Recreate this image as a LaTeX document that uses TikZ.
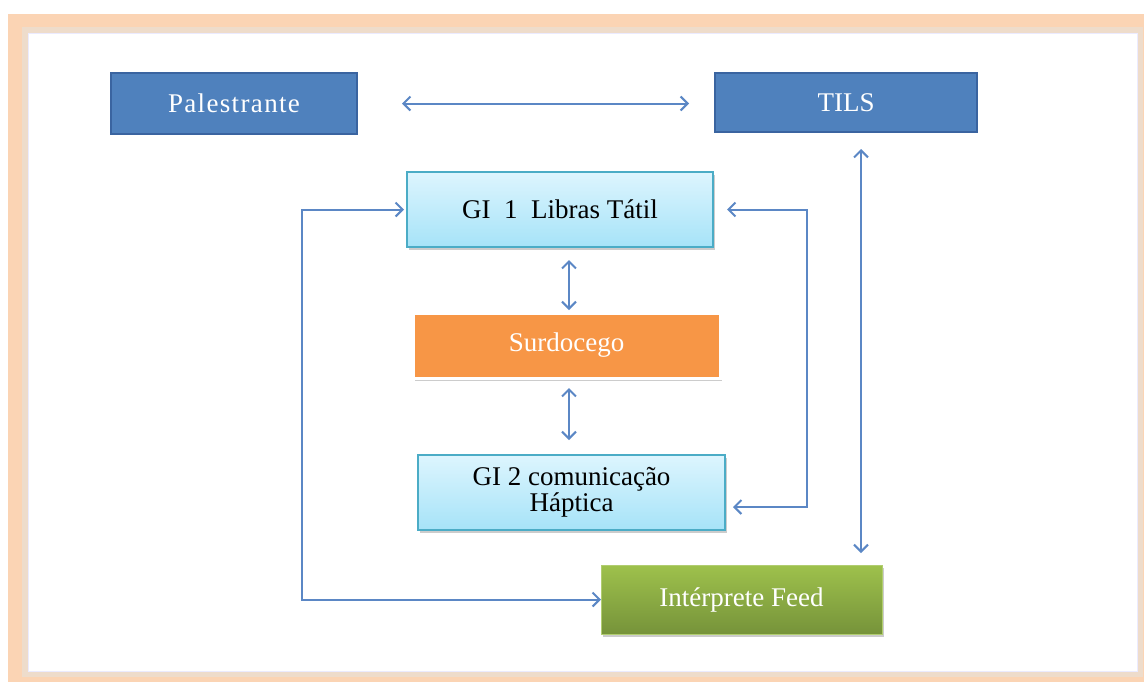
\documentclass[tikz,border=0pt]{standalone}
\usepackage{fontspec}
\setmainfont{Liberation Serif}
\usepackage{tikz}
\usetikzlibrary{arrows.meta,shadows}

\definecolor{boxblue}{HTML}{4F81BD}
\definecolor{boxblueline}{HTML}{3A64A0}
\definecolor{cyantop}{HTML}{DDF5FE}
\definecolor{cyanbot}{HTML}{A6E3F8}
\definecolor{cyanline}{HTML}{4BACC6}
\definecolor{boxorange}{HTML}{F79646}
\definecolor{greentop}{HTML}{9EC14C}
\definecolor{greenbot}{HTML}{76933A}
\definecolor{framepeach}{HTML}{FBD4B4}
\definecolor{frameedge}{HTML}{EEDCCB}
\definecolor{linkblue}{HTML}{5B87C5}

\tikzset{
	box/.style={rectangle, inner sep=0pt, outer sep=0pt, align=center,
		font=\fontsize{13.5}{13}\selectfont},
	speaker/.style={box, fill=boxblue, draw=boxblueline, line width=0.8pt, text=white},
	guide/.style={box, top color=cyantop, bottom color=cyanbot, draw=cyanline,
		line width=0.8pt, text=black,
		drop shadow={opacity=0.4, shadow xshift=1.2pt, shadow yshift=-1.5pt}},
	deafblind/.style={box, fill=boxorange, draw=white, line width=1.5pt, text=white,
		drop shadow={opacity=0.4, shadow xshift=1.2pt, shadow yshift=-1.5pt}},
	feeder/.style={box, top color=greentop, bottom color=greenbot, draw=greentop!80!white,
		line width=0.5pt, text=white,
		drop shadow={opacity=0.4, shadow xshift=1.2pt, shadow yshift=-1.5pt}},
	link/.style={draw=linkblue, line width=1pt,
		{Straight Barb[length=3.5pt,width=7pt]}-{Straight Barb[length=3.5pt,width=7pt]}}
}

\begin{document}
\begin{tikzpicture}[x=0.5pt,y=-0.5pt]
		\useasboundingbox (0,0) rectangle (1144,682);
%		\draw[help lines] (0,0) grid[step=50] (1144,682);
		% frame
		\fill[framepeach] (8,14) rectangle (1144,682);
		\draw[frameedge, line width=3pt] (25,30) rectangle (1140,674);
		\fill[white, draw=blue!8] (28,33) rectangle (1137,671);

		\path (234,103.5) coordinate (pal_c);
		\path (846,102.5) coordinate (tils_c);
		\path (560,209.5) coordinate (gi1_c);
		\path (566.5,345.5) coordinate (surdo_c);
		\path (571.5,492.5) coordinate (gi2_c);
		\path (741.5,599.5) coordinate (feed_c);
		\path (302,0) coordinate (leftx);
		\path (569,0) coordinate (midx);
		\path (807,0) coordinate (rightx);
		\path (861,0) coordinate (tilsx);

		\node[speaker, minimum width=123pt, minimum height=30.5pt] (pal) at (pal_c)
			{\addfontfeature{LetterSpace=5}Palestrante};
		\node[speaker, minimum width=131pt, minimum height=29.5pt] (tils) at (tils_c) {TILS};
		\node[guide, minimum width=153pt, minimum height=37.5pt] (gi1) at (gi1_c)
			{GI\ \ 1\ \ Libras Tátil};
		\node[deafblind, minimum width=153.5pt, minimum height=32.5pt] (surdo) at (surdo_c) {Surdocego};
		\node[guide, minimum width=153.5pt, minimum height=37.5pt] (gi2) at (gi2_c)
			{GI 2 comunicação\\Háptica};
		\node[feeder, minimum width=140.5pt, minimum height=34.5pt] (feed) at (feed_c) {Intérprete Feed};
		\path (gi2.east) ++(0,14.5) coordinate (gi2r);

		\draw[link, shorten <=22.5pt, shorten >=13pt] (pal.east) -- (pal.east -| tils.west);
		\draw[link, shorten <=8.5pt, shorten >=6pt] (tils.south -| tilsx) -- (feed.north -| tilsx);
		\draw[link, shorten <=6.5pt, shorten >=1.5pt] (gi1.south -| midx) -- (surdo.north -| midx);
		\draw[link, shorten <=5pt, shorten >=7.5pt] (surdo.south -| midx) -- (gi2.north -| midx);
		\draw[link, shorten <=1.5pt] (gi1.west) -- (gi1.west -| leftx) -- (feed.west -| leftx) -- (feed.west);
		\draw[link, shorten <=7pt, shorten >=4pt] (gi1.east) -- (gi1.east -| rightx) -- (gi2r -| rightx) -- (gi2r);
	\end{tikzpicture}
\end{document}
